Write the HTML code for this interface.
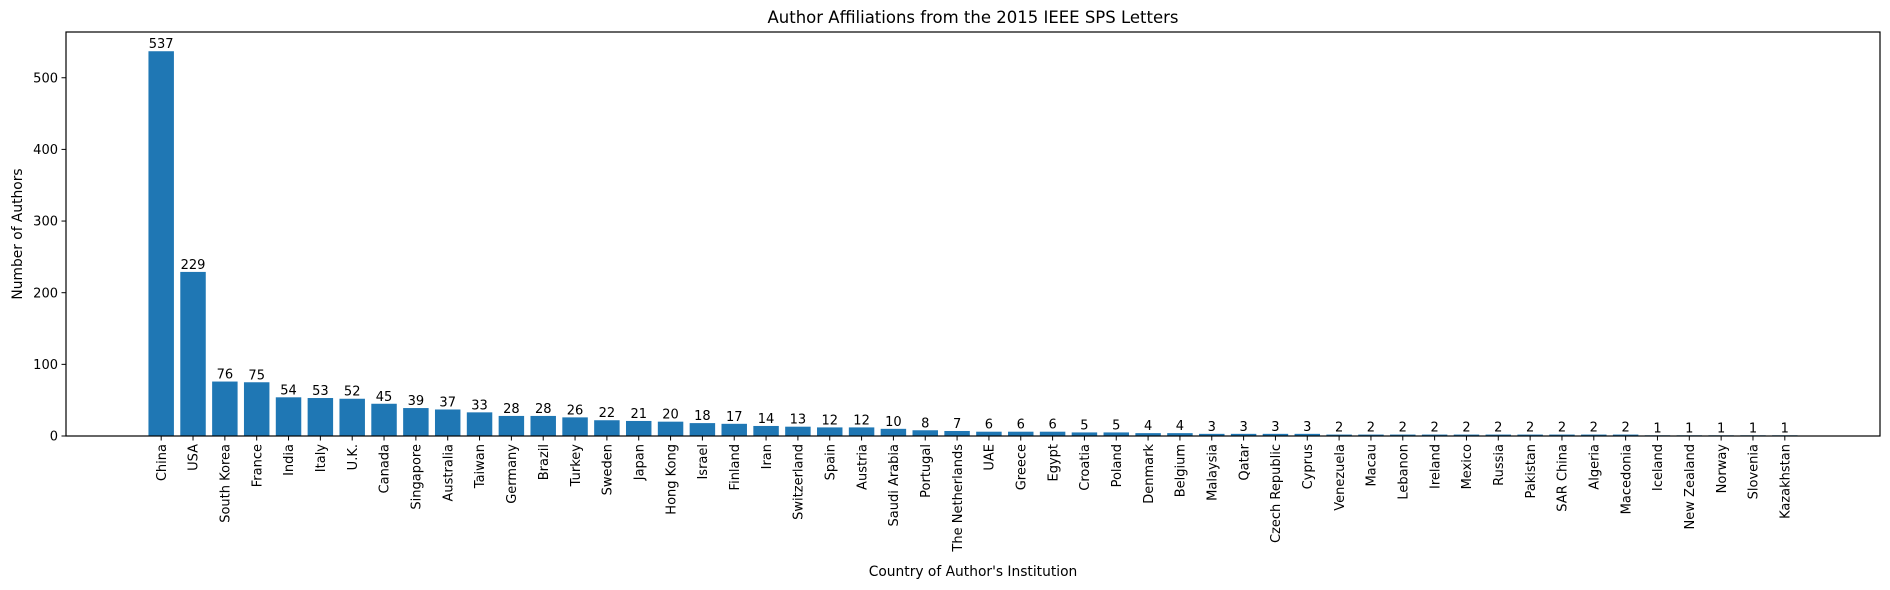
<!DOCTYPE html>
<html><head><meta charset="utf-8"><style>
html,body{margin:0;padding:0;background:#fff;}
svg{display:block;font-family:"DejaVu Sans","Liberation Sans",sans-serif;}
</style></head><body>
<svg id="chart" width="1890" height="590" xmlns="http://www.w3.org/2000/svg">
<text x="973" y="23" font-size="16.5" text-anchor="middle">Author Affiliations from the 2015 IEEE SPS Letters</text>
<text x="973" y="576" font-size="13.8" text-anchor="middle">Country of Author's Institution</text>
<text transform="translate(18,234) rotate(-90)" font-size="13.8" text-anchor="middle" dominant-baseline="middle">Number of Authors</text>
<g id="bars"></g>
<g id="xt"></g>
<g id="yt"></g>
<rect x="66" y="32" width="1814" height="404" fill="none" stroke="#000" stroke-width="1.2"/>
</svg>
<script>
const categories = ["China","USA","South Korea","France","India","Italy","U.K.","Canada","Singapore","Australia","Taiwan","Germany","Brazil","Turkey","Sweden","Japan","Hong Kong","Israel","Finland","Iran","Switzerland","Spain","Austria","Saudi Arabia","Portugal","The Netherlands","UAE","Greece","Egypt","Croatia","Poland","Denmark","Belgium","Malaysia","Qatar","Czech Republic","Cyprus","Venezuela","Macau","Lebanon","Ireland","Mexico","Russia","Pakistan","SAR China","Algeria","Macedonia","Iceland","New Zealand","Norway","Slovenia","Kazakhstan"];
const authors = [537,229,76,75,54,53,52,45,39,37,33,28,28,26,22,21,20,18,17,14,13,12,12,10,8,7,6,6,6,5,5,4,4,3,3,3,3,2,2,2,2,2,2,2,2,2,2,1,1,1,1,1];
const yTicks = [0,100,200,300,400,500];

const NS="http://www.w3.org/2000/svg";
const L=66,R=1880,T=32,B=436;
const FS=13;
const n=categories.length;
const xmin=-0.4-0.05*(n-1+0.8), xmax=n-1+0.4+0.05*(n-1+0.8);
const ymax=Math.max(...authors)*1.05;
const xs=i=>L+(i-xmin)/(xmax-xmin)*(R-L);
const bw=0.8*(R-L)/(xmax-xmin);
const ys=v=>B-v/ymax*(B-T);
function mk(tag,attrs,parent){const e=document.createElementNS(NS,tag);for(const k in attrs)e.setAttribute(k,attrs[k]);parent.appendChild(e);return e;}
const gb=document.getElementById('bars'),gx=document.getElementById('xt'),gy=document.getElementById('yt');
categories.forEach((c,i)=>{
  const cx=xs(i),v=authors[i];
  const r=mk('rect',{x:cx-bw/2,y:ys(v),width:bw,height:B-ys(v),fill:'#1f77b4'},gb);
  
  
  const t=mk('text',{x:cx,y:ys(v)-3,'font-size':FS,'text-anchor':'middle'},gb);
  t.textContent=v;
  
  
  const tk=mk('line',{x1:cx,x2:cx,y1:B,y2:B+4.5,stroke:'#000','stroke-width':1},gx);
  
  
  const lb=mk('text',{transform:`translate(${cx+4.7},${B+8}) rotate(-90)`,'font-size':FS,'text-anchor':'end'},gx);
  lb.textContent=c;
  
  
});
yTicks.forEach(v=>{
  const y=ys(v);
  const tk=mk('line',{x1:L-4.5,x2:L,y1:y,y2:y,stroke:'#000','stroke-width':1},gy);
  
  
  const lb=mk('text',{x:L-8,y:y+4.7,'font-size':FS,'text-anchor':'end'},gy);
  lb.textContent=v;
  
  
});
</script>
</body></html>
